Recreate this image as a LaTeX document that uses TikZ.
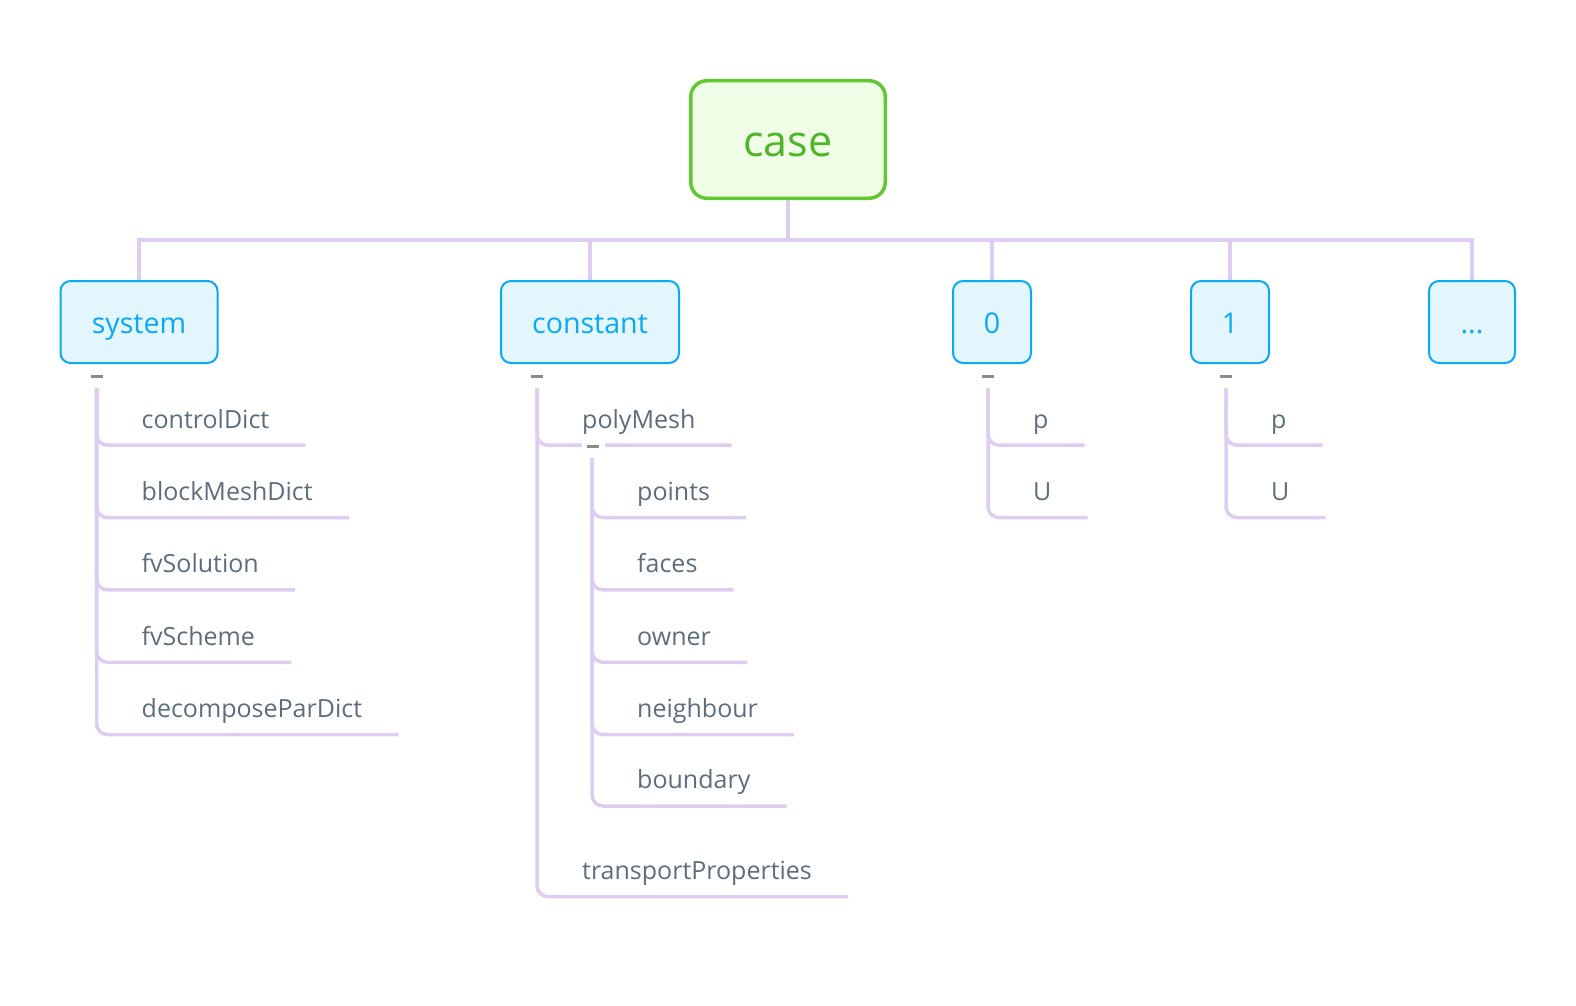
\documentclass[tikz,border=0pt]{standalone}
\usepackage{fontspec}
\setmainfont{Open Sans}
\usetikzlibrary{positioning}
\definecolor{zline}{RGB}{222, 205, 242}
\definecolor{zgreen}{RGB}{98, 200, 50}
\definecolor{zgreenbg}{RGB}{239, 253, 231}
\definecolor{zgreentxt}{RGB}{80, 180, 40}
\definecolor{zblue}{RGB}{10, 168, 245}
\definecolor{zbluebg}{RGB}{227, 245, 253}
\definecolor{zgray}{RGB}{92, 110, 124}
\definecolor{zfold}{RGB}{140, 140, 140}

\begin{document}
\begin{tikzpicture}[x=1pt, y=-1pt,
  rootbox/.style={rectangle, rounded corners=16pt, draw=zgreen, line width=3.5pt,
                  fill=zgreenbg, minimum width=194.5pt, minimum height=117.5pt,
                  text height=34pt, text depth=0pt,
                  font=\fontsize{43}{50}\selectfont, text=zgreentxt},
  dirbox/.style={rectangle, rounded corners=10pt, draw=zblue, line width=2pt,
                 fill=zbluebg, minimum height=82pt, inner sep=0pt,
                 text height=25pt, text depth=3pt,
                 font=\fontsize{28.6}{34}\selectfont, text=zblue},
  leaf/.style={anchor=south west, inner xsep=36pt, inner ysep=17pt, text depth=0pt,
               font=\fontsize{25}{30}\selectfont, text=zgray},
  link/.style={draw=zline, line width=3.6pt},
  branch/.style={draw=zline, line width=3.5pt, rounded corners=11pt},
  fold/.style={rectangle, fill=zfold, minimum width=12pt, minimum height=3pt, inner sep=0pt},
  foldgap/.style={rectangle, fill=white, minimum width=23pt, minimum height=9pt, inner sep=0pt}
]
\useasboundingbox (0,0) rectangle (1576,1006);

% root and first level
\node[rootbox] (case) at (788,139.5) {case};
\coordinate (bus) at (788,240);

\node[dirbox, minimum width=157pt] (system)   at (139,322)  {system};
\node[dirbox, minimum width=178pt] (constant) at (590,322)  {constant};
\node[dirbox, minimum width=78pt]  (zero)     at (992,322)  {0};
\node[dirbox, minimum width=78pt]  (one)      at (1230,322) {1};
\node[dirbox, minimum width=86pt]  (more)     at (1472,322) {...};

\draw[link] (case.south) -- (bus);
\draw[link] (bus) -| (system.north);
\draw[link] (bus) -| (constant.north);
\draw[link] (bus) -| (zero.north);
\draw[link] (bus) -| (one.north);
\draw[link] (bus) -| (more.north);

% system
\coordinate (sysT) at (96.5,388);
\node[leaf] (ctrl)   at (105.5,445.2) {controlDict};
\node[leaf] (block)  at (105.5,517.6) {blockMeshDict};
\node[leaf] (fvsol)  at (105.5,589.9) {fvSolution};
\node[leaf] (fvsch)  at (105.5,662.3) {fvScheme};
\node[leaf] (decomp) at (105.5,734.6) {decomposeParDict};
\draw[branch] (sysT) |- (ctrl.south east);
\draw[branch] (sysT) |- (block.south east);
\draw[branch] (sysT) |- (fvsol.south east);
\draw[branch] (sysT) |- (fvsch.south east);
\draw[branch] (sysT) |- (decomp.south east);

% constant
\coordinate (conT) at (537,388);
\node[leaf] (poly)  at (546,445.2) {polyMesh};
\node[leaf] (trans) at (546,896.5) {transportProperties};
\draw[branch] (conT) |- (poly.south east);
\draw[branch] (conT) |- (trans.south east);

\coordinate (polyT) at (592,458);
\node[leaf] (points) at (601,517.6) {points};
\node[leaf] (faces)  at (601,589.9) {faces};
\node[leaf] (owner)  at (601,662.3) {owner};
\node[leaf] (neigh)  at (601,734.6) {neighbour};
\node[leaf] (bound)  at (601,806)   {boundary};
\draw[branch] (polyT) |- (points.south east);
\draw[branch] (polyT) |- (faces.south east);
\draw[branch] (polyT) |- (owner.south east);
\draw[branch] (polyT) |- (neigh.south east);
\draw[branch] (polyT) |- (bound.south east);

% time directories
\coordinate (zeroT) at (988,388);
\node[leaf] (zp) at (997,445.2) {p};
\node[leaf] (zU) at (997,517.6) {U};
\draw[branch] (zeroT) |- (zp.south east);
\draw[branch] (zeroT) |- (zU.south east);

\coordinate (oneT) at (1226,388);
\node[leaf] (op) at (1235,445.2) {p};
\node[leaf] (oU) at (1235,517.6) {U};
\draw[branch] (oneT) |- (op.south east);
\draw[branch] (oneT) |- (oU.south east);

% collapse marks
\node[fold] (sysF)  at (96.5,376) {};
\node[fold] (conF)  at (537,376)  {};
\node[fold] (zeroF) at (988,376)  {};
\node[fold] (oneF)  at (1226,376) {};
\node[foldgap] at (593,446) {};
\node[fold] (polyF) at (593,446) {};

\end{tikzpicture}
\end{document}
